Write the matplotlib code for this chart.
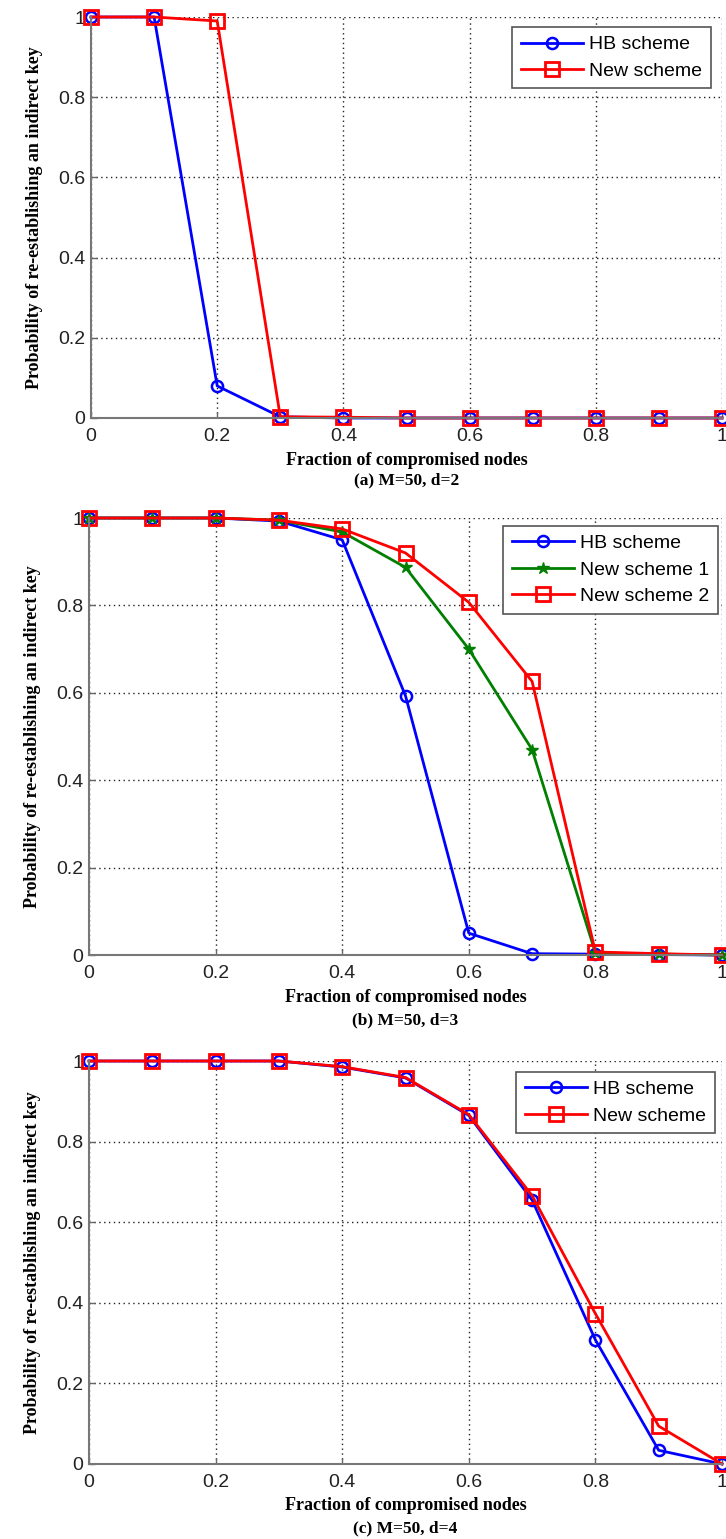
import matplotlib
matplotlib.use("Agg")
import matplotlib.pyplot as plt
import numpy as np

# data
frac = [0, 0.1, 0.2, 0.3, 0.4, 0.5, 0.6, 0.7, 0.8, 0.9, 1.0]

hb_d2 = [1, 1, 0.08, 0.003, 0, 0, 0, 0, 0, 0, 0]
new_d2 = [1, 1, 0.99, 0.003, 0.002, 0, 0, 0, 0, 0, 0]

hb_d3 = [1, 1, 1, 0.993, 0.95, 0.593, 0.05, 0.003, 0.002, 0.001, 0]
new1_d3 = [1, 1, 1, 0.995, 0.968, 0.887, 0.70, 0.47, 0.005, 0.002, 0]
new2_d3 = [1, 1, 1, 0.995, 0.975, 0.92, 0.807, 0.626, 0.007, 0.003, 0]

hb_d4 = [1, 1, 1, 1, 0.985, 0.958, 0.865, 0.655, 0.308, 0.034, 0]
new_d4 = [1, 1, 1, 1, 0.986, 0.959, 0.867, 0.666, 0.373, 0.094, 0]

ticks = [0, 0.2, 0.4, 0.6, 0.8, 1.0]
tick_labels = ["0", "0.2", "0.4", "0.6", "0.8", "1"]
captions = ["(a) M=50, d=2", "(b) M=50, d=3", "(c) M=50, d=4"]

BLUE = "#0000ff"
RED = "#ff0000"
GREEN = "#007f00"

W, H = 726, 1539
fig = plt.figure(figsize=(W / 100, H / 100), dpi=100)


def px_axes(left, right, top, bottom):
    return fig.add_axes([left / W, 1 - bottom / H, (right - left) / W, (bottom - top) / H])


def style(ax, caption, leg_anchor, xl_y, cap_y):
    ax.set_xlim(0, 1)
    ax.set_ylim(0, 1)
    ax.set_xticks(ticks)
    ax.set_yticks(ticks)
    ax.set_xticklabels(tick_labels, fontsize=14, family="Liberation Sans", color="#222222")
    ax.set_yticklabels(tick_labels, fontsize=14, family="Liberation Sans", color="#222222")
    ax.tick_params(direction="in", length=4, width=1, color="#666666")
    ax.tick_params(axis="x", pad=7)
    ax.tick_params(axis="y", pad=4)
    ax.grid(True, color="#222222", linestyle=(0, (1, 2.5)), linewidth=1)
    for s in ["top", "right"]:
        ax.spines[s].set_visible(False)
    for s in ["left", "bottom"]:
        ax.spines[s].set_color("#777777")
        ax.spines[s].set_linewidth(1.5)
    ax.set_xlabel("Fraction of compromised nodes", fontsize=13,
                  family="Liberation Serif", fontweight="bold", va="center")
    ax.set_ylabel("Probability of re-establishing an indirect key", fontsize=13,
                  family="Liberation Serif", fontweight="bold", va="center")
    ax.xaxis.set_label_coords(0.5, xl_y)
    ax.yaxis.set_label_coords(-0.089, 0.5)
    ax.text(0.5, cap_y, caption, transform=ax.transAxes, ha="center", va="center",
            fontsize=12.5, family="Liberation Serif", fontweight="bold")
    leg = ax.legend(loc="upper right", bbox_to_anchor=leg_anchor,
                    prop={"family": "Liberation Sans", "size": 14},
                    handlelength=3.2, labelspacing=0.45, borderpad=0.45,
                    borderaxespad=0, handletextpad=0.3, fancybox=False,
                    framealpha=1)
    leg.get_frame().set_edgecolor("#555555")
    leg.get_frame().set_linewidth(1.2)


line_kw = dict(linewidth=2, clip_on=False)
circ_kw = dict(marker="o", markersize=8, markerfacecolor="none", markeredgewidth=1.8)
sq_kw = dict(marker="s", markersize=10, markerfacecolor="none", markeredgewidth=2)

# (a)
ax1 = px_axes(91, 722, 17, 418)
ax1.plot(frac, hb_d2, color=BLUE, label="HB scheme", **line_kw, **circ_kw)
ax1.plot(frac, new_d2, color=RED, label="New scheme", **line_kw, **sq_kw)
style(ax1, captions[0], (0.9826, 0.975), -0.105, -0.155)

# (b)
ax2 = px_axes(89, 722, 518, 955)
ax2.plot(frac, hb_d3, color=BLUE, label="HB scheme", **line_kw, **circ_kw)
ax2.plot(frac, new1_d3, color=GREEN, label="New scheme 1", marker="*", markersize=9,
         **line_kw)
ax2.plot(frac, new2_d3, color=RED, label="New scheme 2", **line_kw, **sq_kw)
style(ax2, captions[1], (0.9937, 0.982), -0.098, -0.149)

# (c)
ax3 = px_axes(89, 722, 1061, 1464)
ax3.plot(frac, hb_d4, color=BLUE, label="HB scheme", **line_kw, **circ_kw)
ax3.plot(frac, new_d4, color=RED, label="New scheme", **line_kw, **sq_kw)
style(ax3, captions[2], (0.989, 0.973), -0.102, -0.159)

fig.savefig("out.png", dpi=100)
